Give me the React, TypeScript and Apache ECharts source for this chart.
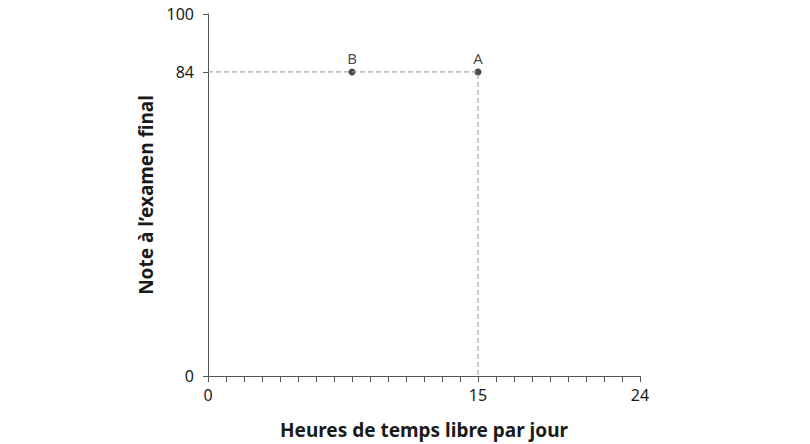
import { useEffect, useRef } from "react";
import * as echarts from "echarts";

const xTicks = Array.from({ length: 25 }, (_, i) => i);
const xLabels = [0, 15, 24];
const yLabels = [0, 84, 100];
const guide = [
  [0, 84],
  [15, 84],
  [15, 0],
];
const points = [
  { name: "B", value: [8, 84] },
  { name: "A", value: [15, 84] },
];

const font = "Noto Sans";

export default function App() {
  const chartRef = useRef<HTMLDivElement | null>(null);

  useEffect(() => {
    if (!chartRef.current) return;
    const chart = echarts.init(chartRef.current, undefined, { renderer: "svg" });
    chart.setOption({
      animation: false,
      textStyle: { fontFamily: font },
      grid: { left: 208, right: 170, top: 14, bottom: 68, containLabel: false, outerBoundsMode: "none" },
      xAxis: {
        type: "value",
        min: 0,
        max: 24,
        interval: 1,
        splitLine: { show: false },
        axisLine: { lineStyle: { color: "#555", width: 1 } },
        axisTick: { customValues: xTicks, length: 6, lineStyle: { color: "#555" } },
        axisLabel: { customValues: xLabels, color: "#1a1a1a", fontSize: 16, margin: 11, fontFamily: font },
        name: "Heures de temps libre par jour",
        nameLocation: "middle",
        nameGap: 44,
        nameTextStyle: { color: "#1a1a1a", fontSize: 19, fontWeight: "bold", fontFamily: font },
      },
      yAxis: {
        type: "value",
        min: 0,
        max: 100,
        interval: 4,
        splitLine: { show: false },
        axisLine: { lineStyle: { color: "#555", width: 1 } },
        axisTick: { customValues: yLabels, length: 5, lineStyle: { color: "#555" } },
        axisLabel: { customValues: yLabels, color: "#1a1a1a", fontSize: 16, margin: 14, fontFamily: font },
        name: "Note à l’examen final",
        nameLocation: "middle",
        nameGap: 52,
        nameTextStyle: { color: "#1a1a1a", fontSize: 19, fontWeight: "bold", fontFamily: font },
      },
      series: [
        {
          type: "line",
          data: guide,
          symbol: "none",
          silent: true,
          lineStyle: { color: "#999", width: 1, type: [5, 3] },
        },
        {
          type: "scatter",
          data: points,
          symbolSize: 7,
          itemStyle: { color: "#1a1a1a" },
          label: {
            show: true,
            position: "top",
            formatter: "{b}",
            distance: 3,
            color: "#1a1a1a",
            fontSize: 15,
            fontFamily: font,
          },
        },
      ],
    });
    return () => chart.dispose();
  }, []);

  return (
    <div
      ref={chartRef}
      style={{ position: "absolute", left: 0, top: 0, width: 810, height: 444, background: "#fff" }}
    />
  );
}
